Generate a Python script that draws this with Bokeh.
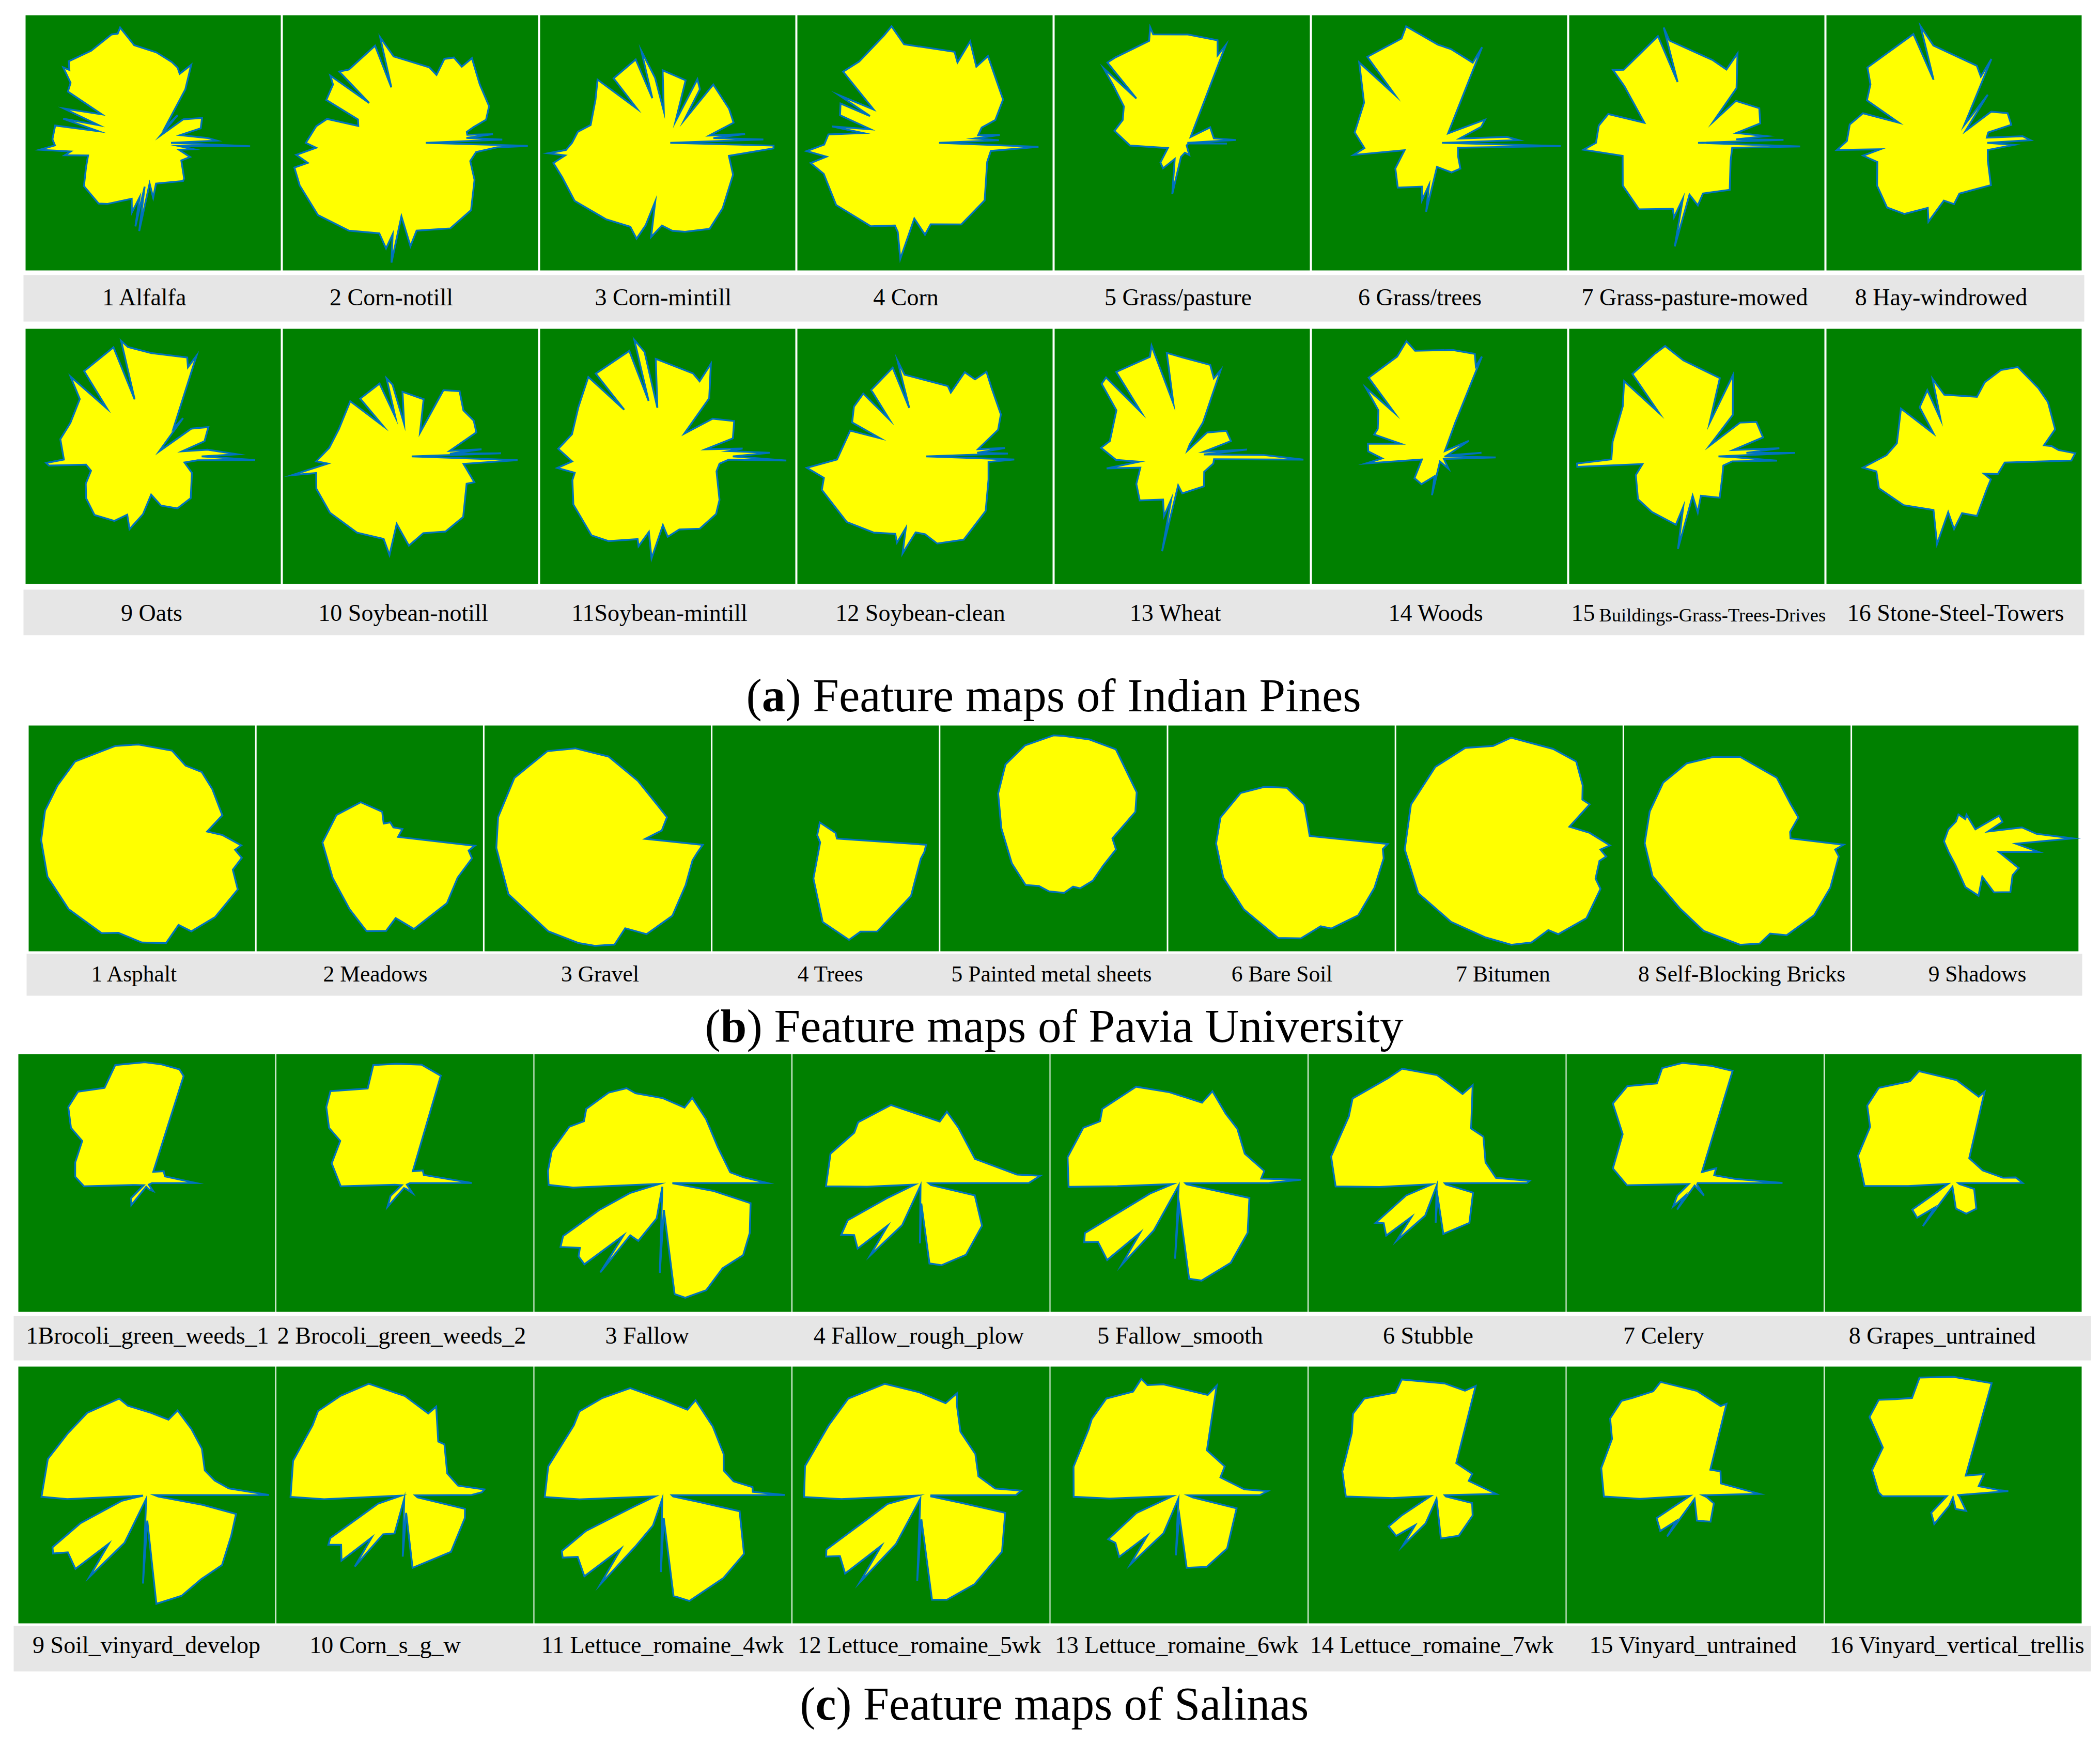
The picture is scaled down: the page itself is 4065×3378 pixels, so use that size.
import math
from bokeh.plotting import figure
from bokeh.core.properties import value
from bokeh.embed import file_html
from bokeh.resources import INLINE

# Radar outlines: (angle in degrees, radius in % of the panel half-width)
A01=[(0,14),(2,50),(5,43),(16,22),(17,39),(27,43),(38,30),(45,8),(48.5,29),(52,15),(59,49),(64,68),(69,58),(72,62),(77,65),(88,71),(101,78),(106,94),(108,90),(111,91),(124,87),(136,92),(139,87),(140,92),(144,80),(149,78),(151,46),(159,75),(162,45),(165,73),(168,44),(170,78),(178,79),(181.5,77),(183.5,89),(186,65),(188,70),(191,52),(200,56),(212,64),(228,64),(233,60),(249,47),(253,57),(256,44),(258,67),(259,35),(261,70),(265,32),(270,43),(274,32),(308,38),(311,37),(328,26),(339,31),(345,21),(351,32),(353,20),(358,76)]
A02=[(0,12),(2,72),(5,44),(6,65),(8,45),(11,45),(14,51),(17,62),(25,68),(40,71),(54,82),(56,72),(63,75),(68,71),(69,57),(76,61),(101,69),(106,86),(109,46),(110,81),(130,75),(135,79),(136,45),(140,82),(143,76),(153,74),(156,45),(162,43),(164,68),(170,75),(180,82),(183,74),(186,90),(191,82),(192,93),(201,93),(218,92),(235,84),(251,75),(257,85),(259,73),(261,95),(263,58),(270,81),(274,69),(295,74),(312,71),(330,58),(343,49),(352,52),(357,68),(358.5,92)]
A03=[(0,2),(2,75),(6,36),(6.5,61),(10,33),(17,54),(29,55),(52,58),(54,22),(59,49),(65,55),(70,18),(74,51),(94,57),(97,25),(101,52),(106,75),(109,37),(111,70),(130,66),(132,36),(138,74),(149,66),(167,62),(173,71),(180,75),(184,80),(185,94),(187,81),(190,91),(198,87),(212,86),(231,77),(246,72),(252,79),(255,67),(258,47),(260,75),(266,65),(273,69),(281,71),(296,75),(310,67),(334,57),(348,49),(357,83),(358.5,83)]
A04=[(0,11),(2,58),(5,39),(6,59),(8,42),(15,46),(18,58),(29,70),(54,84),(56,72),(66,87),(68,68),(72,75),(102,79),(106,95),(111,90),(129,82),(139,85),(147,48),(151,77),(154,48),(155,73),(162,70),(166,44),(170,74),(171,49),(175,76),(181,79),(184,93),(188,78),(190,91),(197,83),(215,85),(237,78),(250,69),(253,73),(258,93),(262,60),(270,72),(274,64),(294,70),(316,65),(343,51),(353,52),(358,89)]
A05=[(0,4),(3,42),(8,25),(29,25),(35,8),(66,84),(68,74),(71,85),(87,85),(105,88),(105.5,94),(108,84),(128,85),(133,86),(136,50),(136.5,85),(140,71),(148,54),(159,50),(170,54),(183,41),(200,12),(222,23),(233,25),(245,14),(259,41),(265,11),(285,8),(300,11),(330,4),(355,5),(359,35)]
A06=[(0,2),(2,62),(5,53),(12,16),(21,35),(27,40),(48,10),(66,82),(67.5,68),(83,74),(91,77),(106,95),(110,87),(130,88),(133,51),(135,89),(152,67),(173,67),(184,59),(188,68),(192,28),(210,40),(227,48),(248,37),(253,47),(256,34),(259,55),(264,19),(292,25),(309,26),(324,18),(345,15),(358.5,95)]
A07=[(0,1),(2,68),(5,31),(5.5,55),(14,32),(17,52),(29,56),(47,45),(52,21),(54,53),(65.5,77),(68,62),(79,66),(105,83),(106,94),(107.5,50),(110,89),(135,81),(139,87),(142,72),(159,44),(162,73),(170,78),(180,79),(183.5,89),(190,59),(210,67),(229,69),(250,55),(253,61),(256,45),(258,83),(262,41),(271,49),(277,40),(305,45),(332,30),(352,28),(358,81)]
A08=[(0,26),(2,60),(5.5,54),(9,26),(17,28),(17.5,47),(29,48),(40,38),(46,13),(55,46),(60,16),(66,72),(68,56),(73.5,63),(102,78),(106,95),(108,52),(110.5,91),(139,90),(145,80),(154,76),(160,46),(162,75),(170,83),(179,84),(183.5,92),(185,58),(188,72),(194,62),(209,69),(224,73),(235,68),(248,55),(252,65),(260,46),(270,48),(276,40),(311,44),(332,30),(348,27),(358,47)]
A09=[(0,38),(1.4,66),(7,43),(10,23),(16.5,42),(28,49),(36,37),(40,6),(52,38),(54,27),(66.7,86),(68.7,75),(71,82),(91,81),(103,88),(105.5,94),(108,47),(110,91),(129,86),(134,52),(136,90),(142,73),(158,70),(169.5,74),(182,70),(183.5,84),(185,82),(187,53),(193,50),(202,57),(212,62),(225,65),(239,59),(246,50),(252,60),(260,46),(267,30),(279,39),(295,45),(312,44),(337,33),(349,25),(355,35),(358,80)]
A10=[(0,1),(2,71),(4,31),(5.7,56),(8,31),(20,55),(29.5,57),(41,55),(53,64),(63.5,58),(68,20),(77,46),(97,51),(101,26),(104,58),(107,64),(111,33),(113,62),(131,60),(132,32),(137.5,64),(159,60),(174,64),(183,74),(185,65),(189,94),(190,75),(199,78),(215,77),(235,73),(252,68),(258,79),(258.5,54),(269,70),(279.5,61),(295,65),(311,63),(334,49),(338,54),(352,42),(358,84)]
A11=[(0,51),(2,80),(5,48),(6,59),(10.6,30),(15.5,53),(28,59),(40,46),(54,22),(54.5,56),(65,80),(67,64),(73,68),(97,77),(102,39),(102.5,84),(106,95),(109,46),(110,88),(131,86),(133,50),(135,88),(151,80),(167,77),(176,86),(183,75),(186,87),(190,74),(194,77),(207,83),(226,86),(235,81),(250,69),(252,74),(256,61),(261,81),(266,54),(270,63),(279,58),(294,62),(310,59),(320,53),(343,40),(352,41),(357,48),(358,93)]
A12=[(0,1),(2,65),(4,41),(6,63),(7.7,42),(20,61),(29,68),(46,75),(54,82),(57,72),(64.7,73),(68,54),(72,58),(104,66),(106,78),(108,40),(110,74),(129,67),(134,40),(134.5,69),(145,68),(155,63),(158,38),(161,62),(182,69),(185.5,93),(192,81),(198,85),(220,80),(236,72),(249,65),(252,71),(255,58),(257,78),(263,60),(270,61),(278,69),(295,72),(318,64),(340,53),(355,50),(358,70)]
A13=[(1,64),(5,17),(6,51),(12,17),(17.5,40),(30,40),(44,27),(48,6),(58,11),(58.5,31),(66,74),(68,66),(73,75),(91,78),(98.5,82),(99.5,42),(105.5,90),(108,82),(128,84),(133,47),(134,86),(138,85),(145,63),(168,58),(174,64),(183,52),(187,34),(189,60),(195,34),(211,42),(226,48),(246,37),(253,49),(255.6,35),(258,76),(262,23),(270,29),(306,29),(325,21),(347,25),(355,25),(358.5,95)]
A14=[(0,4),(5,33),(8,6),(28,26),(45,6),(65,29),(67,85),(68,76),(71,85),(83,84),(103,85),(106,94),(113,85),(132,83),(136,49),(137,79),(143,60),(156,53),(161.5,54),(162,32),(170,57),(176,56),(182,45),(185.5,58),(190,14),(221,26),(237,26),(256,16),(259,31),(275,4),(306,12),(330,4),(359,44)]
A15=[(0,17),(2,77),(4,39),(5.6,65),(10,29),(16,54),(30,54),(38,43),(40,13),(49,43),(66,70),(69,28),(73.6,64),(88,69),(98,76),(106,90),(112,87),(128,82),(131,45),(134,82),(146,70),(170,67),(182,67),(183.4,94),(185,94),(188,43),(197,50),(216,57),(231,56),(253,56),(255,41),(258.5,74),(264,31),(271,44),(276,31),(299,37),(320,26),(341,22),(352,28),(357,63),(359,28)]
A16=[(1.5,95),(3.5,82),(6,77),(7,71),(15,82),(30,85),(39,85),(54.5,86),(61.5,77),(67.5,63),(69,50),(99,49),(105.5,63),(110,31),(112,56),(125,47),(132,24),(138,56),(167,46),(179,53),(187,72),(191,62),(203,64),(224,55),(249,45),(259,70),(264,44),(270,57),(278,45),(291,50),(316,36),(328,34),(330,27),(338,37),(353,40),(358,92)]

B01=[(2.5,71),(6,58),(16,74),(35,76),(48,79),(59,75),(71,82),(92,83),(106,85),(131,90),(148,88),(164,89),(181,89),(202,90),(224,90),(247,91),(256,86),(270,92),(283,95),(293,83),(298,93),(313,95),(332,96),(341,85),(349,90),(353,83),(356,88)]
B02=[(3,25),(16,30),(25,23),(38,23),(47,18),(65,26),(104,33),(145,36),(185,42),(227,48),(254,65),(268,82),(280,83),(288,74),(296,89),(320,89),(336,85),(349,92),(353,88),(356,93)]
B03=[(7,57),(17,64),(32,60),(55,62),(82.5,73),(104,82),(120,89),(144,91),(168,90),(185.4,90),(212,93),(242,93),(259.5,94),(268.5,95),(279,95),(287,83),(297,95),(314,95),(332,88),(347,86),(352,89),(356.5,93),(359.5,42)]
B04=[(29,10),(110,15),(159,8),(216,6),(253,37),(268,74),(283,92),(290.5,88),(299,94),(326,91),(336,87),(348,86),(352,88),(356.4,89),(359,10)]
B05=[(0,52),(18,76),(29,84),(55,96),(70,93),(85,91),(90,91),(107,86),(123,78),(141,63),(169,47),(211,43),(239,48),(253,44),(265,47),(281,49),(292,46),(298,50),(313,51),(331,50),(350,56)]
B06=[(5,25),(32,27),(56,36),(84,45),(108,48),(132,54),(161,57),(184.5,58),(214,62),(242,71),(268,88),(281,90),(294,85),(299,91),(315,96),(332,93),(349,92),(354,90),(357,94)]
B07=[(4,71),(11,54),(23,77),(28,73),(36,80),(49,90),(64,88),(89,89),(100,83),(116,89),(136,91),(161,92),(186,93),(211,94),(235,90),(256.5,90),(271,94),(282,94),(293,88),(297,95),(314,98),(331,92),(335,84),(346,82),(349.4,87),(353,81),(356,89)]
B08=[(0,47),(7,47),(19,57),(32.5,56),(57,64),(88,72),(106,75),(124,80),(143,82),(163,81),(183,82),(204,82),(230.5,80),(250,87),(271.5,94),(282,95),(289,89),(297,96),(315,96),(332,93),(350,91),(353.5,87),(356.6,94)]
B09=[(0,95),(3.7,63),(11,51),(17,21),(24,36),(34,36),(42,12),(87,21),(90,17),(106,22),(119,17),(152,17),(188,19),(219,19),(249.5,25),(270,43),(283,52),(294,37),(298,54),(310,62),(322,53),(331,54),(338,32),(349.5,66),(354,45)]

C01=[(0,38),(20,15),(35,16),(60,10),(71,88),(74,92),(83,93),(91,94),(105,95),(114,81),(127,89),(136,85),(144,73),(147,60),(164,58),(175,56),(183,49),(190,9),(215,3),(224,17),(235,21),(260,3),(285,5),(308,8),(320,2),(358,4)]
C02=[(0,52),(23,16),(35,17),(56,11),(71.5,88),(82,93),(94,93),(105,95),(111.5,79),(129,92),(136,85),(144,73),(147,60),(165,59),(183,50),(190,8),(215,3),(222,15),(234,23),(260,4),(285,5),(307,10),(320,2),(358,4)]
C03=[(0,81),(4,63),(9,53),(33,51),(56,60),(71,70),(74,61),(90,66),(107,73),(111,79),(121,82),(136,83),(142,78),(149,85),(164,90),(174,90),(181,89),(183,70),(195,3),(197,27),(203,54),(208,88),(212,94),(218,82),(221,87),(226,88),(233,51),(235,85),(238,48),(247,49),(260,28),(261,3),(268,70),(272,21),(276,87),(281,91),(292,90),(305,81),(318,84),(330,78),(347,70),(351,40),(358,8),(359,8)]
C04=[(0,84),(3.5,93),(5,75),(24,46),(56,52),(70,59),(73,50),(111,65),(136,68),(143,65),(162,74),(182,74),(184,42),(195,5),(204,28),(207,64),(213,74),(218,66),(226,71),(232,42),(235,69),(246,36),(260,2),(269,47),(271,16),(276,63),(284,66),(302,66),(325,58),(347,43),(348,8),(358,6)]
C05=[(0,70),(1.5,95),(3,64),(8,67),(24,56),(43,62),(56,65),(70,76),(74,65),(96,71),(114,82),(136,83),(142,78),(150,86),(167,89),(182,86),(183,48),(190,5),(200,24),(208,83),(212,87),(216,78),(227,82),(232,49),(235,78),(242,42),(262,2),(267,59),(270,16),(276,75),(283,78),(303,74),(324,66),(348,56),(350,6),(358,5)]
C06=[(0,70),(1.3,72),(5,46),(23,41),(45,51),(58,50),(70,81),(74,72),(90,84),(107,93),(115,90),(135,93),(143,86),(166,85),(182,79),(184,45),(195,4),(202,26),(213,57),(217,52),(226,57),(233,33),(235,55),(250,27),(262,2),(268,31),(272,10),(277,40),(309,40),(345,29),(350,7),(358,6)]
C07=[(0,68),(6,31),(22,16),(35,20),(58,10),(71.5,92),(82,92),(96,94),(106,93),(111,83),(125,92),(136,89),(146,68),(170,65),(182,53),(190,5),(215,17),(227,25),(232,13),(236,25),(260,2),(305,12),(320,2),(358,2)]
C08=[(0,54),(5,49),(6,39),(23,25),(57,23),(71,75),(73.5,70),(88,80),(107,91),(113,86),(128,94),(138,90),(146,78),(164,77),(182,69),(184,35),(190,4),(210,16),(213,38),(224,39),(233,24),(235,41),(260,3),(276,20),(293,26),(312,27),(344,17),(350,5),(358,4)]
C09=[(0,95),(4.6,64),(12,54),(23,49),(40,56),(56,62),(70,70),(74,61),(87,64),(102,71),(106,78),(126,79),(142,78),(160,82),(181,82),(183,62),(190,3),(193,20),(203,56),(209,84),(212,86),(216,76),(226,80),(232,48),(235,78),(245,41),(260,3),(267.5,69),(271,20),(275,85),(289,83),(303,78),(317,80),(334,73),(348,71),(350,44),(352,9),(359,6)]
C10=[(0,52),(2,60),(4,62),(10,42),(27,37),(52,50),(58,49),(70.5,73),(74,66),(90,77),(108,91),(123,92),(136,94),(143,90),(163,91),(181,89),(183,63),(190,3),(198,22),(210,67),(213,71),(218,63),(226,71),(232,42),(235,68),(241,35),(255,31),(260,3),(268,48),(274,14),(276,57),(309,57),(339,50),(347,48),(349,10),(358,8)]
C11=[(0,95),(2,70),(5,70),(11,56),(22,51),(34,57),(54,66),(71,78),(74,69),(90,74),(107,87),(122,89),(135,92),(142,88),(166,92),(181,92),(183,65),(190,6),(202,25),(205,66),(209,90),(212,92),(216,82),(226,88),(232,53),(235,85),(242,45),(252,25),(260,3),(268.5,60),(272,18),(276,79),(284,85),(306,80),(324,78),(348,61),(349,29),(352,8),(358,7)]
C12=[(0,74),(2.5,78),(5,58),(18,47),(37,53),(58,58),(68.5,76),(70.5,84),(75,74),(91,80),(108,91),(127,94),(143,90),(166,93),(181,91),(183,62),(190,3),(195,27),(204,45),(210,85),(213,88),(217,79),(226,85),(232,50),(235,83),(243,43),(260,3),(267.5,67),(271,19),(276,82),(284,84),(301,81),(325,77),(348,67),(349,32),(352,8),(358,8)]
C13=[(0,63),(2.5,69),(5,51),(23,35),(32,42),(58,41),(71,90),(74,81),(98,87),(106,89),(108,95),(114,88),(127,94),(139,90),(144,87),(165,85),(181,82),(183,54),(190,5),(203,36),(212,65),(217,62),(226,67),(232,40),(235,66),(248,32),(260,3),(267,47),(271,16),(276,57),(291,60),(312,56),(347,46),(350,11),(358,7)]
C14=[(1,46),(24,27),(31,32),(59,29),(70.5,90),(75,84),(86,87),(107,94),(112,86),(127,94),(136,91),(144,82),(166,76),(181,71),(184,35),(190,5),(210,32),(213,45),(225,45),(234,29),(236,48),(248,24),(262,3),(275,34),(298,36),(330,32),(347,28),(350,7),(358,6)]
C15=[(1,50),(24,22),(43,27),(59,23),(71,75),(74,72),(89,81),(107,92),(112,87),(123,90),(128,93),(138,89),(146,78),(164,76),(181,71),(184,43),(190,4),(211,35),(226,39),(234,25),(236,39),(262,3),(274,20),(300,24),(336,16),(350,9),(358,6)]
C16=[(4,43),(6,36),(19,21),(34,29),(57,18),(71,92),(90,92),(106,95),(113,82),(121,87),(128,94),(137,89),(146,66),(163,66),(178,58),(181,55),(190,5),(219,22),(237,27),(250,9),(265,2),(280,11),(309,16),(345,5),(358,4)]

LABELS_A1=["1 Alfalfa","2 Corn-notill","3  Corn-mintill","4 Corn","5 Grass/pasture","6 Grass/trees","7 Grass-pasture-mowed","8 Hay-windrowed"]
LABELS_A2=["9 Oats","10 Soybean-notill","11Soybean-mintill","12 Soybean-clean","13 Wheat","14 Woods","","16 Stone-Steel-Towers"]
LABELS_B=["1 Asphalt","2 Meadows","3 Gravel","4 Trees","5 Painted metal sheets","6 Bare Soil","7 Bitumen","8 Self-Blocking Bricks","9 Shadows"]
LABELS_C1=["1Brocoli_green_weeds_1","2 Brocoli_green_weeds_2","3  Fallow","4 Fallow_rough_plow","5 Fallow_smooth","6 Stubble","7 Celery","8 Grapes_untrained"]
LABELS_C2=["9 Soil_vinyard_develop","10 Corn_s_g_w","11 Lettuce_romaine_4wk","12 Lettuce_romaine_5wk","13 Lettuce_romaine_6wk","14 Lettuce_romaine_7wk","15 Vinyard_untrained","16 Vinyard_vertical_trellis"]
CENTERS_A1=[280,757,1289,1753,2280,2748,3280,3757]
CENTERS_A2=[293,780,1276,1781,2275,2779,0,3785]
CENTERS_B=[260,726,1161,1607,2035,2481,2909,3371,3827]
CENTERS_C1=[285,777,1258,1778,2284,2764,3220,3759]
CENTERS_C2=[283,745,1282,1779,2277,2771,3277,3788]

ROWS=[
 dict(maps=[A01,A02,A03,A04,A05,A06,A07,A08],left=49,pitch=498,gap=4,top=29,bottom=523,bar=(45,4034,532,622),labels=LABELS_A1,cx=CENTERS_A1,ty=575,fs=46),
 dict(maps=[A09,A10,A11,A12,A13,A14,A15,A16],left=49,pitch=498,gap=4,top=636,bottom=1130,bar=(45,4034,1141,1229),labels=LABELS_A2,cx=CENTERS_A2,ty=1186,fs=46),
 dict(maps=[B01,B02,B03,B04,B05,B06,B07,B08,B09],left=55,pitch=441.2,gap=3,top=1404,bottom=1841,bar=(51,4030,1846,1927),labels=LABELS_B,cx=CENTERS_B,ty=1884,fs=43.5),
 dict(maps=[C01,C02,C03,C04,C05,C06,C07,C08],left=35,pitch=499.5,gap=2,top=2040,bottom=2539,bar=(26,4047,2547,2633),labels=LABELS_C1,cx=CENTERS_C1,ty=2585,fs=46),
 dict(maps=[C09,C10,C11,C12,C13,C14,C15,C16],left=35,pitch=499.5,gap=2,top=2645,bottom=3142,bar=(26,4047,3147,3235),labels=LABELS_C2,cx=CENTERS_C2,ty=3184,fs=46),
]

p=figure(width=4049,height=3362,x_range=(0,4049),y_range=(3362,0),toolbar_location=None,output_backend="svg",
         min_border=0,outline_line_color=None,background_fill_color="white",border_fill_color="white")
p.axis.visible=False
p.grid.visible=False

SERIF=value("Liberation Serif")
for row in ROWS:
    n=len(row["maps"])
    l=[row["left"]+i*row["pitch"] for i in range(n)]
    r=[v+row["pitch"]-row["gap"] for v in l]
    p.quad(left=[row["bar"][0]],right=[row["bar"][1]],top=[row["bar"][2]],bottom=[row["bar"][3]],fill_color="#E6E6E6",line_color=None)
    p.quad(left=l,right=r,top=[row["top"]]*n,bottom=[row["bottom"]]*n,fill_color="#008000",line_color=None)
    half=(row["pitch"]-row["gap"])/2
    cy=(row["top"]+row["bottom"])/2
    xs=[];ys=[]
    for i,m in enumerate(row["maps"]):
        cx=l[i]+half
        xs.append([cx+half*q/100*math.cos(math.radians(t)) for t,q in m])
        ys.append([cy-half*q/100*math.sin(math.radians(t)) for t,q in m])
    p.patches(xs,ys,fill_color="#FFFF00",line_color="#0072BD",line_width=3.5,line_join="miter")
    p.text(row["cx"],[row["ty"]]*n,text=row["labels"],text_font=SERIF,text_font_size=value(f'{row["fs"]}px'),
           text_align="center",text_baseline="middle",text_color="black")

# Mixed-size label of class 15 in the Indian Pines row
p.text([3041],[1186],text=["15"],text_font=SERIF,text_font_size=value("46px"),text_align="left",text_baseline="middle",text_color="black")
p.text([3095],[1190],text=["Buildings-Grass-Trees-Drives"],text_font=SERIF,text_font_size=value("36.5px"),text_align="left",text_baseline="middle",text_color="black")

# Sub-captions with a bold letter
for x0,yc,letter,rest,size in [(1444,1346,"a",") Feature maps of Indian Pines",91),(1364,1986,"b",") Feature maps of Pavia University",91),(1548,3298,"c",") Feature maps of Salinas",90)]:
    lw={"a":.5,"b":.556,"c":.444}[letter]
    p.text([x0],[yc],text=["("],text_font=SERIF,text_font_size=value(f"{size}px"),text_align="left",text_baseline="middle",text_color="black")
    p.text([x0+.333*size],[yc],text=[letter],text_font=SERIF,text_font_size=value(f"{size}px"),text_font_style="bold",text_align="left",text_baseline="middle",text_color="black")
    p.text([x0+(.333+lw)*size],[yc],text=[rest],text_font=SERIF,text_font_size=value(f"{size}px"),text_align="left",text_baseline="middle",text_color="black")

open("out.html","w").write(file_html(p,INLINE))
